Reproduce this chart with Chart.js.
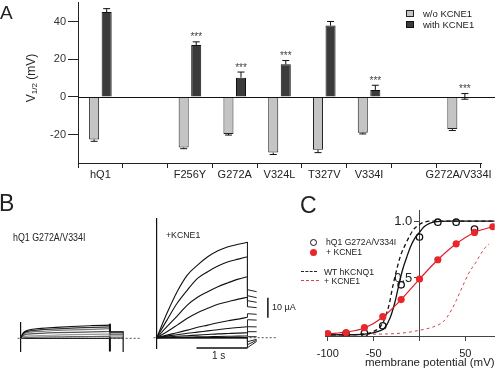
<!DOCTYPE html>
<html>
<head>
<meta charset="utf-8">
<script src="https://cdn.jsdelivr.net/npm/chart.js"></script>
<style>
  html,body{margin:0;background:#fff}
  #fig{position:relative;width:500px;height:370px;overflow:hidden;font-family:"Liberation Sans",Arial,sans-serif;color:#222}
  #fig canvas,#fig .t,#fig .sym{position:absolute}
  .t{white-space:nowrap;line-height:1;transform-origin:0 0}
</style>
</head>
<body>
<div id="fig">
  <canvas id="gvBars" width="500" height="190" style="left:0;top:-6px"></canvas>
  <canvas id="currAlone" width="125" height="30" style="left:16px;top:322px"></canvas>
  <canvas id="currKcne1" width="124" height="131" style="left:153px;top:218px"></canvas>
  <canvas id="gvCurves" width="200" height="170" style="left:300px;top:200px"></canvas>

  <!-- panel letters -->
  <div class="t" style="left:0;top:2.6px;font-size:19px">A</div>
  <div class="t" style="left:-1px;top:192px;font-size:23px">B</div>
  <div class="t" style="left:300px;top:194px;font-size:23px">C</div>

  <!-- panel A: axis title + legend -->
  <div class="t" style="left:32px;top:78px;font-size:12px;transform-origin:50% 50%;transform:translate(-50%,-50%) rotate(-90deg)">V<sub style="font-size:8px;vertical-align:-2px">1/2</sub> (mV)</div>
  <div class="sym" style="left:406px;top:10px;width:6px;height:5px;background:#c4c4c4;border:1px solid #222"></div>
  <div class="sym" style="left:406px;top:21px;width:6px;height:5px;background:#3b3b3b;border:1px solid #111"></div>
  <div class="t" style="left:423px;top:8.5px;font-size:9.5px">w/o KCNE1</div>
  <div class="t" style="left:423px;top:19.5px;font-size:9.5px">with KCNE1</div>

  <!-- panel B labels -->
  <div class="t" style="left:13px;top:231.6px;font-size:11.5px;transform:scaleX(0.77)">hQ1 G272A/V334I</div>
  <div class="t" style="left:166px;top:229.5px;font-size:9.5px;transform:scaleX(0.92)">+KCNE1</div>
  <div class="t" style="left:272px;top:302.5px;font-size:9px">10 µA</div>
  <div class="t" style="left:212px;top:351.3px;font-size:10px">1 s</div>

  <!-- panel C legend -->
  <div class="sym" style="left:309.5px;top:238.5px;width:5px;height:5px;border:1.2px solid #111;border-radius:50%"></div>
  <div class="sym" style="left:309.5px;top:248.5px;width:7px;height:7px;background:#e8262c;border-radius:50%"></div>
  <div class="sym" style="left:301px;top:271px;width:16px;border-top:1.2px dashed #222"></div>
  <div class="sym" style="left:301px;top:280px;width:18px;border-top:1px dashed #d0454a"></div>
  <div class="t" style="left:326px;top:237.5px;font-size:8.6px">hQ1 G272A/V334I</div>
  <div class="t" style="left:326px;top:248px;font-size:8.6px">+ KCNE1</div>
  <div class="t" style="left:324px;top:267.5px;font-size:8.6px">WT hKCNQ1</div>
  <div class="t" style="left:324px;top:276.5px;font-size:8.6px">+ KCNE1</div>
</div>

<script>
Chart.defaults.font.family = '"Liberation Sans", Arial, sans-serif';
Chart.defaults.color = '#222';

// ---- A: V1/2 per construct (mV)
const mutants = ['hQ1', '', 'F256Y', 'G272A', 'V324L', 'T327V', 'V334I', '', 'G272A/V334I'];
const v12Alone = [-22.5, null, -26.8, -19.6, -29.5, -28, -19, null, -17];
const v12AloneErr = [1, null, 0.6, 0.6, 1, 1.5, 0.6, null, 0.8];
const v12Kcne1 = [45, null, 27.5, 10.2, 17.3, 37.8, 3.7, null, 0.3];
const v12Kcne1Err = [1.8, null, 1.7, 3, 2, 2.2, 2.5, null, 1.5];
const v12Stars = ['', '', '***', '***', '***', '', '***', '', '***'];
const v12Ticks = [-20, 0, 20, 40];

// ---- B: current traces (s, µA)
const aloneTimes = [0, 0.03, 0.06, 0.1, 0.2, 0.4, 0.7, 1.0, 1.4, 1.75];
const aloneTraces = [
  [0, 1.8, 2.9, 3.6, 4.4, 5.0, 5.5, 5.9, 6.3, 6.6],
  [0, 1.6, 2.6, 3.2, 3.8, 4.3, 4.7, 5.1, 5.4, 5.7],
  [0, 1.4, 2.2, 2.7, 3.1, 3.5, 3.9, 4.2, 4.5, 4.8],
  [0, 1.0, 1.6, 1.9, 2.2, 2.5, 2.8, 3.0, 3.2, 3.4],
  [0, 0.5, 0.8, 1.0, 1.2, 1.4, 1.6, 1.8, 2.0, 2.1],
  [0, 0.2, 0.3, 0.4, 0.5, 0.6, 0.7, 0.8, 0.9, 1.0],
  [0, 0, 0, 0, 0, 0, 0, 0, 0, 0]
];
const aloneTail = [3.3, 3.0, 2.6, 2.0, 1.3, 0.6, 0.1];
const aloneTailEnd = 2.01;
const aloneColors = ['#111', '#333', '#777', '#555', '#999', '#666', '#222'];
const aloneSpikeTimes = [1.75, 2.01];
const aloneSpikeLow = [-6.6, -6.8];
const aloneSpikeHigh = [7.3, 3.5];

const kcne1Times = [0, 0.2, 0.4, 0.6, 0.8, 1.0, 1.2, 1.4, 1.6, 1.78];
const kcne1Traces = [
  [0, 12.2, 23, 31.3, 36.3, 40.5, 43.5, 45.5, 46.7, 47.7],
  [0, 8.8, 17.2, 23.8, 29.7, 33, 35.8, 38, 39.3, 40.5],
  [0, 5.5, 10.8, 16.3, 20.2, 23, 25.5, 27.5, 29.3, 30.5],
  [0, 3, 6.3, 9.7, 12.5, 14.7, 16.7, 18, 19.3, 20.2],
  [0, 1.3, 2.5, 3.8, 5.2, 6.3, 7.5, 8.5, 9.3, 10.2],
  [0, 0.8, 1.5, 2.2, 2.8, 3.4, 4.0, 4.6, 5.1, 5.5],
  [0, 0.4, 0.7, 1.0, 1.3, 1.6, 1.9, 2.1, 2.3, 2.5],
  [0, 0.1, 0.2, 0.3, 0.4, 0.5, 0.6, 0.7, 0.8, 0.85],
  [0, 0, 0, 0, 0, 0, 0, 0, 0, 0],
  [0, 0, 0, 0, 0, 0, 0, 0, 0, 0],
  [0, 0, 0, 0, 0, 0, 0, 0, 0, 0],
  [0, 0, 0, 0, 0, 0, 0, 0, 0, 0]
];
const kcne1TailStart = [24, 21, 18.5, 15.5, 12, 9, 5.5, 3, 0.5, -2, -3.5, -5];
const kcne1TailEndVal = [23, 20, 17.7, 15, 11.7, 8.8, 5.4, 3, 0.5, -0.8, -1.3, -1.8];
const kcne1TailEnd = 1.96;
const baselineSpan = [-0.06, 2.36];
const timeBar = [0.78, 1.78];      // 1 s
const timeBarLevel = -5.1;
const currentBar = [10, 20];       // 10 µA
const currentBarTime = 2.18;

// ---- C: normalized G-V
const vSteps = [-100, -80, -60, -40, -20, 0, 20, 40, 60, 80];
const gDouble = [0.0, 0.01, 0.015, 0.08, 0.44, 0.86, 0.99, 0.99, 0.93, null];
const gDoubleKcne1 = [0.01, 0.02, 0.064, 0.16, 0.31, 0.49, 0.66, 0.80, 0.90, 0.95];
const fitDoubleV = [-103, -70, -55, -45, -38, -32, -27, -23, -18.5, -14, -10, -5, 0, 5, 11, 19, 30, 82];
const fitDoubleG = [0, 0.001, 0.01, 0.03, 0.06, 0.15, 0.28, 0.42, 0.57, 0.68, 0.77, 0.85, 0.9, 0.95, 0.98, 0.995, 1, 1];
const fitDoubleKcne1V = [-103, -100, -80, -60, -40, -20, 0, 20, 40, 60, 82];
const fitDoubleKcne1G = [0.005, 0.008, 0.025, 0.06, 0.155, 0.31, 0.49, 0.66, 0.80, 0.90, 0.955];
const wtV = [-103, -70, -60, -50, -42, -38, -33, -29, -24, -20, -15, -10, -6, 0, 5, 15, 82];
const wtG = [0, 0.002, 0.01, 0.03, 0.08, 0.14, 0.27, 0.43, 0.6, 0.71, 0.8, 0.88, 0.93, 0.97, 0.99, 1.0, 1.0];
const wtKcne1V = [-103, -60, -20, 0, 15, 25, 30, 35, 40, 45, 50, 55, 61, 66, 72, 76];
const wtKcne1G = [0, 0.005, 0.015, 0.04, 0.07, 0.11, 0.155, 0.22, 0.3, 0.39, 0.48, 0.56, 0.63, 0.7, 0.77, 0.8];
const gvTicksX = [-100, -50, 0, 50];
const gvTicksY = [0.5, 1.0];

const pts = (xs, ys) => xs.map((x, i) => ({x, y: ys[i]}));

// error bars, zero line and significance stars for panel A
const errorBars = {
  id: 'errorBars',
  afterDatasetsDraw(chart) {
    const {ctx, chartArea, scales: {y}} = chart;
    ctx.save();
    const y0 = Math.round(y.getPixelForValue(0)) + 0.5;
    ctx.strokeStyle = '#111';
    ctx.lineWidth = 1;
    ctx.beginPath(); ctx.moveTo(chartArea.left, y0); ctx.lineTo(chart.width - 5, y0); ctx.stroke();
    chart.data.datasets.forEach((ds, i) => {
      const meta = chart.getDatasetMeta(i);
      ds.data.forEach((v, j) => {
        if (v === null) return;
        const x = meta.data[j].x, e = ds.errors[j];
        const dir = v < 0 ? -1 : 1;
        const yEnd = y.getPixelForValue(v + dir * e);
        const both = Math.abs(v) < e;
        const yStart = y.getPixelForValue(both ? v - dir * e : v);
        ctx.beginPath();
        ctx.moveTo(x, yStart); ctx.lineTo(x, yEnd);
        ctx.moveTo(x - 3.5, yEnd); ctx.lineTo(x + 3.5, yEnd);
        if (both) { ctx.moveTo(x - 3.5, yStart); ctx.lineTo(x + 3.5, yStart); }
        ctx.stroke();
        if (ds.stars && ds.stars[j]) {
          ctx.fillStyle = '#444';
          ctx.font = '10px "Liberation Sans", Arial, sans-serif';
          ctx.textAlign = 'center';
          ctx.textBaseline = 'alphabetic';
          ctx.fillText(ds.stars[j], x, Math.min(yEnd, yStart) - 1.5);
        }
      });
    });
    ctx.restore();
  }
};

new Chart(document.getElementById('gvBars'), {
  type: 'bar',
  data: {
    labels: mutants,
    datasets: [
      { label: 'w/o KCNE1', data: v12Alone, errors: v12AloneErr, backgroundColor: '#c4c4c4', borderColor: '#222', borderWidth: 1, categoryPercentage: 0.56, barPercentage: 0.8 },
      { label: 'with KCNE1', data: v12Kcne1, errors: v12Kcne1Err, stars: v12Stars, backgroundColor: '#3b3b3b', borderColor: '#111', borderWidth: 1, categoryPercentage: 0.56, barPercentage: 0.8 }
    ]
  },
  options: {
    responsive: false, animation: false,
    layout: { padding: { left: 0, right: 19, top: 0, bottom: 0 } },
    plugins: { legend: { display: false }, tooltip: { enabled: false } },
    scales: {
      x: {
        offset: true,
        grid: { offset: true, drawOnChartArea: false, tickLength: 5, color: '#222' },
        border: { color: '#222' },
        ticks: { autoSkip: false, maxRotation: 0, padding: 0, color: '#222', font: { size: 11 } },
        afterFit: s => { s.height = 21; }
      },
      y: {
        min: -35, max: 50,
        afterBuildTicks: s => { s.ticks = v12Ticks.map(v => ({ value: v })); },
        grid: { drawOnChartArea: false, tickLength: 10, color: '#222' },
        border: { color: '#222' },
        ticks: { padding: 2, color: '#333', font: { size: 11 } },
        afterFit: s => { s.width = 78; }
      }
    }
  },
  plugins: [errorBars]
});

function traceChart(id, xMin, xMax, yMin, yMax, datasets) {
  return new Chart(document.getElementById(id), {
    type: 'line',
    data: { datasets },
    options: {
      responsive: false, animation: false,
      plugins: { legend: { display: false }, tooltip: { enabled: false } },
      elements: { point: { radius: 0 } },
      scales: {
        x: { type: 'linear', min: xMin, max: xMax, display: false },
        y: {
          type: 'linear', min: yMin, max: yMax, position: { x: 0 },
          ticks: { display: false }, grid: { display: false },
          border: { display: true, color: '#111', width: 1.2 }
        }
      }
    }
  });
}

// hQ1 G272A/V334I alone
const aloneSets = [];
aloneTraces.forEach((tr, k) => {
  const tEnd = aloneTimes[aloneTimes.length - 1];
  aloneSets.push({ data: pts(aloneTimes, tr), borderColor: aloneColors[k], borderWidth: 1.2, cubicInterpolationMode: 'monotone' });
  aloneSets.push({ data: [{x: tEnd, y: tr[tr.length - 1]}, {x: tEnd, y: aloneTail[k]}, {x: aloneTailEnd, y: aloneTail[k]}], borderColor: aloneColors[k], borderWidth: 1, tension: 0 });
});
aloneSpikeTimes.forEach((t, k) => {
  aloneSets.push({ data: [{x: t, y: aloneSpikeLow[k]}, {x: t, y: aloneSpikeHigh[k]}], borderColor: '#111', borderWidth: k === 0 ? 2 : 1.2 });
});
aloneSets.push({ data: baselineSpan.map(t => ({x: t, y: 0})), borderColor: '#555', borderWidth: 1, borderDash: [2, 2] });
traceChart('currAlone', -0.092, 2.36, -6.85, 8.15, aloneSets);

// + KCNE1
const kcne1Sets = [];
kcne1Traces.forEach((tr, k) => {
  const tEnd = kcne1Times[kcne1Times.length - 1];
  kcne1Sets.push({ data: pts(kcne1Times, tr), borderColor: '#111', borderWidth: 1.1, cubicInterpolationMode: 'monotone' });
  kcne1Sets.push({ data: [{x: tEnd, y: tr[tr.length - 1]}, {x: tEnd, y: kcne1TailStart[k]}, {x: kcne1TailEnd, y: kcne1TailEndVal[k]}], borderColor: '#222', borderWidth: 1, tension: 0 });
});
kcne1Sets.push({ data: timeBar.map(t => ({x: t, y: timeBarLevel})), borderColor: '#111', borderWidth: 1.5 });
kcne1Sets.push({ data: currentBar.map(c => ({x: currentBarTime, y: c})), borderColor: '#111', borderWidth: 1.5 });
kcne1Sets.push({ data: baselineSpan.map(t => ({x: t, y: 0})), borderColor: '#555', borderWidth: 1, borderDash: [2, 2] });
traceChart('currKcne1', -0.073, 2.359, -5.65, 59.85, kcne1Sets);

// ---- C
new Chart(document.getElementById('gvCurves'), {
  type: 'scatter',
  data: {
    datasets: [
      { label: '+ KCNE1', data: pts(vSteps, gDoubleKcne1), pointRadius: 3.6, backgroundColor: '#e8262c', borderColor: '#e8262c', borderWidth: 0 },
      { label: 'hQ1 G272A/V334I', data: pts(vSteps, gDouble), pointRadius: 3.2, backgroundColor: 'rgba(255,255,255,0)', borderColor: '#111', borderWidth: 1.3 },
      { data: pts(fitDoubleKcne1V, fitDoubleKcne1G), showLine: true, pointRadius: 0, borderColor: '#e01b24', borderWidth: 1.2, cubicInterpolationMode: 'monotone' },
      { data: pts(fitDoubleV, fitDoubleG), showLine: true, pointRadius: 0, borderColor: '#111', borderWidth: 1.3, cubicInterpolationMode: 'monotone' },
      { label: 'WT hKCNQ1', data: pts(wtV, wtG), showLine: true, pointRadius: 0, borderColor: '#111', borderWidth: 1.3, borderDash: [4, 3], cubicInterpolationMode: 'monotone' },
      { label: '+ KCNE1', data: pts(wtKcne1V, wtKcne1G), showLine: true, pointRadius: 0, borderColor: '#d0454a', borderWidth: 1, borderDash: [3, 3], cubicInterpolationMode: 'monotone' }
    ]
  },
  options: {
    responsive: false, animation: false,
    layout: { padding: { left: 25, right: 1, top: 10, bottom: 0 } },
    plugins: { legend: { display: false }, tooltip: { enabled: false } },
    scales: {
      x: {
        type: 'linear', min: -103, max: 82,
        afterBuildTicks: s => { s.ticks = gvTicksX.map(v => ({ value: v })); },
        grid: { drawOnChartArea: false, tickLength: 5, color: '#444' },
        border: { color: '#444' },
        ticks: { padding: 6, autoSkip: false, maxRotation: 0, font: { size: 11 }, color: '#222', callback: v => v === 0 ? '' : String(v) },
        title: { display: true, text: 'membrane potential (mV)', align: 'end', font: { size: 11.5 }, color: '#222', padding: { top: 0, bottom: 0 } },
        afterFit: s => { s.height = 34; }
      },
      y: {
        type: 'linear', min: -0.01, max: 1.09, position: { x: 0 },
        afterBuildTicks: s => { s.ticks = gvTicksY.map(v => ({ value: v })); },
        grid: { drawOnChartArea: false, tickLength: 5, color: '#444' },
        border: { color: '#444' },
        ticks: { font: { size: 13 }, color: '#222', callback: v => v.toFixed(1) + '  ' }
      }
    }
  }
});
</script>
</body>
</html>
